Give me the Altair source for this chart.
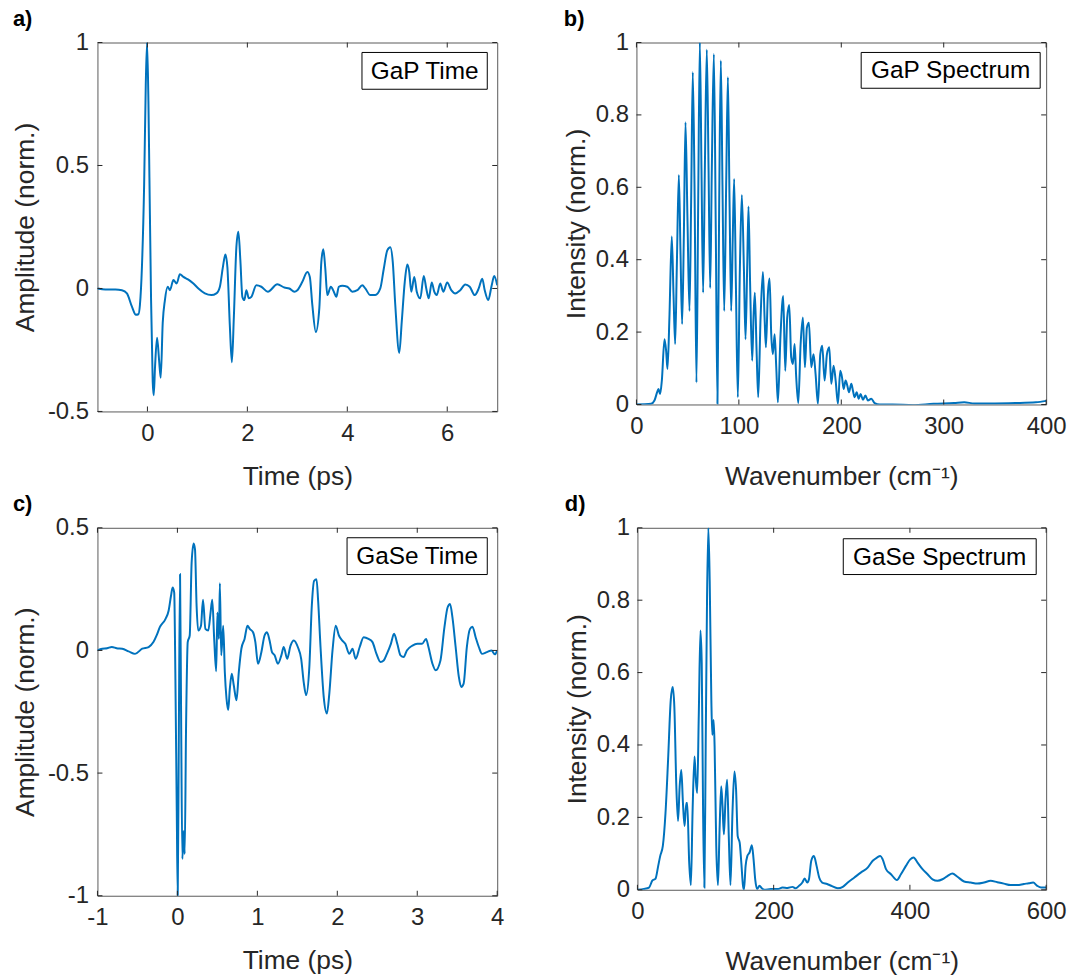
import altair as alt
import pandas as pd

# ---------------- data ----------------
gap_t = [-1.0, -0.84, -0.64, -0.51, -0.41, -0.31, -0.23, -0.18, -0.15, -0.11,
         -0.066, -0.033, -0.007, 0.02, 0.04, 0.073, 0.106, 0.126, 0.153, 0.193,
         0.233, 0.266, 0.306, 0.35, 0.405, 0.45, 0.52, 0.585, 0.65, 0.72,
         0.82, 0.92, 1.02, 1.15, 1.28, 1.38, 1.45, 1.51, 1.56, 1.60,
         1.65, 1.69, 1.73, 1.78, 1.82, 1.86, 1.90, 1.94, 1.98, 2.03,
         2.08, 2.18, 2.28, 2.41, 2.6, 2.74, 2.84, 2.94, 3.0, 3.10,
         3.20, 3.25, 3.30, 3.37, 3.44, 3.48, 3.52, 3.56, 3.60, 3.67,
         3.73, 3.78, 3.83, 3.90, 4.0, 4.1, 4.2, 4.3, 4.36, 4.46,
         4.56, 4.66, 4.73, 4.80, 4.86, 4.91, 4.96, 5.04, 5.09, 5.15,
         5.2, 5.24, 5.28, 5.34, 5.39, 5.46, 5.53, 5.58, 5.63, 5.69,
         5.74, 5.79, 5.86, 5.92, 6.0, 6.08, 6.16, 6.26, 6.36, 6.45,
         6.55, 6.63, 6.70, 6.75, 6.82, 6.89, 6.94, 7.0]
gap_amp = [0.0, -0.004, -0.004, -0.007, -0.02, -0.074, -0.107, -0.105, -0.067, 0.087,
           0.42, 0.83, 1.0, 0.76, 0.45, -0.047, -0.38, -0.434, -0.316, -0.2,
           -0.29, -0.363, -0.14, -0.047, 0.007, -0.007, 0.034, 0.02, 0.058, 0.047,
           0.036, 0.02, 0.0, -0.02, -0.027, -0.02, 0.007, 0.087, 0.138, 0.087,
           -0.155, -0.3, -0.114, 0.168, 0.231, 0.114, -0.034, -0.047, -0.007, -0.04,
           -0.034, 0.013, 0.007, -0.013, 0.017, 0.004, 0.0, -0.013, -0.007, 0.027,
           0.067, 0.047, -0.067, -0.177, -0.08, 0.107, 0.159, 0.08, -0.027, 0.007,
           -0.013, -0.034, 0.007, 0.011, 0.007, -0.013, -0.007, 0.013, 0.0, -0.027,
           -0.027, 0.0, 0.08, 0.155, 0.168, 0.107, -0.067, -0.262, -0.134, 0.027,
           0.097, 0.067, -0.013, 0.047, -0.013, -0.04, 0.051, 0.0, -0.04, 0.024,
           -0.013, -0.027, 0.02, -0.013, 0.024, -0.007, -0.02, -0.007, 0.016, 0.007,
           -0.027, 0.0, 0.04, -0.007, -0.047, 0.013, 0.051, 0.013]

gap_wn = [0, 14.3, 17.6, 20.2, 21.5, 23.1, 24.8, 27.4, 29, 30.3,
          32.2, 34.5, 36.2, 37.8, 39.4, 41.4, 43, 44.6, 46.3, 47.9,
          49.8, 51.8, 53.4, 55, 56.7, 58.6, 60.3, 61.9, 63.5, 65.1,
          66.8, 68.7, 70.4, 72, 73.6, 75.6, 77.5, 79.1, 80.8, 82.4,
          84, 85.7, 87.6, 89.3, 90.9, 92.5, 94.1, 95.4, 97.1, 99,
          101, 102.9, 104.9, 106.5, 108.1, 109.4, 111, 113, 114.3, 115.6,
          117.3, 118.9, 121.2, 123.5, 125.1, 126.4, 128.3, 130, 131.6, 133.2,
          134.9, 136.5, 138.1, 140.7, 143.3, 145.3, 147.2, 149.2, 151.1, 152.8,
          154.4, 156, 158, 160.3, 162.5, 164.5, 166.4, 168.4, 170.7, 172.9,
          174.9, 177.2, 179.5, 181.4, 183.7, 186, 188.3, 190.2, 192.5, 194.5,
          196.7, 199, 200.7, 202.3, 204.2, 205.9, 207.5, 209.8, 211.4, 213,
          215, 217, 218.9, 221.2, 223.5, 226, 229.3, 232.6, 237.5, 250,
          270, 290, 310, 320, 330, 350, 370, 390, 400]
gap_int = [0, 0.002, 0.011, 0.034, 0.043, 0.029, 0.066, 0.18, 0.148, 0.098,
           0.24, 0.464, 0.304, 0.167, 0.377, 0.634, 0.423, 0.222, 0.469, 0.78,
           0.515, 0.258, 0.56, 0.918, 0.606, 0.061, 0.56, 1.0, 0.652, 0.309,
           0.652, 0.98, 0.652, 0.322, 0.652, 0.968, 0.469, 0.002, 0.56, 0.95,
           0.606, 0.258, 0.606, 0.904, 0.56, 0.258, 0.469, 0.623, 0.331, 0.02,
           0.377, 0.579, 0.377, 0.18, 0.377, 0.547, 0.331, 0.121, 0.24, 0.309,
           0.148, 0.02, 0.24, 0.366, 0.24, 0.158, 0.304, 0.348, 0.194, 0.139,
           0.194, 0.103, 0.006, 0.194, 0.3, 0.093, 0.24, 0.275, 0.13, 0.112,
           0.167, 0.075, 0.004, 0.167, 0.24, 0.103, 0.212, 0.226, 0.103, 0.139,
           0.084, 0.002, 0.139, 0.162, 0.066, 0.139, 0.158, 0.057, 0.107, 0.066,
           0.002, 0.093, 0.075, 0.043, 0.066, 0.052, 0.034, 0.057, 0.038, 0.02,
           0.034, 0.016, 0.029, 0.013, 0.025, 0.011, 0.016, 0.004, 0.0, 0.0,
           -0.002, 0.002, 0.004, 0.006, 0.003, 0.003, 0.004, 0.006, 0.01]

gase_t = [-1.0, -0.94, -0.88, -0.82, -0.76, -0.69, -0.61, -0.53, -0.44, -0.36,
          -0.30, -0.26, -0.22, -0.15, -0.11, -0.08, -0.06, -0.04, -0.025, -0.008,
          0.004, 0.017, 0.033, 0.046, 0.062, 0.079, 0.091, 0.108, 0.129, 0.154,
          0.178, 0.203, 0.22, 0.24, 0.26, 0.295, 0.32, 0.35, 0.386, 0.415,
          0.436, 0.46, 0.485, 0.50, 0.519, 0.531, 0.548, 0.573, 0.593, 0.614,
          0.635, 0.656, 0.68, 0.705, 0.739, 0.768, 0.80, 0.84, 0.876, 0.905,
          0.946, 0.975, 1.008, 1.05, 1.09, 1.12, 1.153, 1.183, 1.216, 1.257,
          1.30, 1.33, 1.373, 1.415, 1.456, 1.506, 1.548, 1.58, 1.61, 1.65,
          1.68, 1.71, 1.74, 1.76, 1.79, 1.83, 1.87, 1.90, 1.94, 1.98,
          2.02, 2.06, 2.10, 2.15, 2.19, 2.23, 2.28, 2.33, 2.39, 2.44,
          2.49, 2.54, 2.58, 2.62, 2.67, 2.71, 2.75, 2.79, 2.83, 2.87,
          2.94, 3.0, 3.06, 3.11, 3.14, 3.19, 3.23, 3.29, 3.34, 3.38,
          3.41, 3.44, 3.48, 3.52, 3.55, 3.58, 3.62, 3.66, 3.69, 3.73,
          3.77, 3.81, 3.87, 3.93, 3.97, 4.0]
gase_amp = [0, 0.007, 0.009, 0.014, 0.009, 0.007, -0.004, -0.014, 0.007, 0.014,
            0.034, 0.061, 0.095, 0.128, 0.162, 0.223, 0.257, 0.236, -0.115, -0.655,
            -1.0, -0.385, 0.311, -0.25, -0.85, -0.736, -0.83, -0.318, 0.034, 0.061,
            0.358, 0.436, 0.412, 0.182, 0.081, 0.101, 0.207, 0.088, 0.081, 0.155,
            0.207, 0.047, -0.085, 0.155, 0.047, 0.274, -0.02, 0.101, -0.088, -0.196,
            -0.243, -0.155, -0.095, -0.142, -0.203, -0.088, 0.007, 0.047, 0.101, 0.088,
            0.074, 0.034, -0.054, -0.007, 0.061, 0.074, 0.041, -0.007, -0.02, -0.054,
            -0.02, 0.014, -0.034, 0.02, 0.041, 0.014, -0.034, -0.13, -0.182, -0.068,
            0.176, 0.284, 0.29, 0.203, 0.014, -0.189, -0.257, -0.176, 0, 0.101,
            0.061, 0.041, 0.027, -0.014, 0.007, -0.034, 0.014, 0.054, 0.047, 0.034,
            -0.014, -0.047, -0.041, -0.014, 0.027, 0.068, 0.027, -0.02, -0.027, 0,
            0.02, 0.027, 0.027, 0.047, 0.014, -0.054, -0.081, -0.041, 0.095, 0.176,
            0.189, 0.135, 0.014, -0.108, -0.149, -0.135, 0.014, 0.088, 0.097, 0.054,
            0.014, -0.014, -0.007, 0, -0.016, 0]

gase_wn = [0, 9.7, 17, 21.8, 26.6, 30.5, 33.4, 37.3, 41.2, 45,
           48.9, 51.8, 54.2, 57.1, 59.6, 62, 64.4, 66.8, 69.2, 71.7,
           73.1, 76, 78.5, 80.9, 83.8, 85.7, 87.7, 90.1, 92.5, 94.4,
           96.4, 98.3, 100.2, 102.2, 104.1, 106.1, 108.5, 109.9, 111.9, 113.3,
           115.7, 118.2, 120.6, 123, 124.9, 126.9, 129.3, 131.7, 134.1, 136.6,
           139.5, 142.4, 144.8, 147.2, 150.1, 152.5, 155, 156.4, 158.8, 161.3,
           164.6, 168, 170.5, 172.9, 175.8, 179.2, 182.6, 186.4, 196, 205.8,
           213, 220.3, 227.6, 232.4, 237.3, 242.1, 245.5, 249.4, 251.8, 255.2,
           259.1, 263, 266.8, 271.2, 278.5, 284.4, 294.1, 301.5, 308.8, 318.5,
           328.3, 338, 345.4, 351.7, 356.6, 360, 364.9, 372.2, 381, 386.8,
           394.1, 400.5, 405.4, 411.2, 418.5, 425.9, 433.2, 440.5, 447.8, 455.1,
           462.4, 469.8, 479.5, 489.3, 499, 508.8, 518.5, 528.3, 538, 547.8,
           557.6, 567.3, 574.6, 581, 586.8, 592.7, 600]
gase_int = [0, 0.002, 0.006, 0.025, 0.031, 0.066, 0.093, 0.121, 0.212, 0.359,
            0.524, 0.56, 0.505, 0.286, 0.19, 0.286, 0.331, 0.24, 0.176, 0.24,
            0.24, 0.075, 0.013, 0.212, 0.368, 0.304, 0.267, 0.487, 0.716, 0.625,
            0.212, 0.006, 0.396, 0.808, 1.0, 0.853, 0.524, 0.428, 0.469, 0.396,
            0.121, 0.013, 0.167, 0.286, 0.231, 0.153, 0.249, 0.304, 0.148, 0.013,
            0.212, 0.327, 0.277, 0.148, 0.13, 0.075, 0.011, 0, 0.066, 0.093,
            0.103, 0.123, 0.084, 0.029, 0.002, 0.011, 0.004, 0, 0.002, 0.002,
            0.006, 0.005, 0.008, 0.004, 0.011, 0.02, 0.031, 0.02, 0.029, 0.08,
            0.093, 0.066, 0.034, 0.02, 0.016, 0.011, 0.004, 0.008, 0.02, 0.034,
            0.048, 0.061, 0.08, 0.089, 0.093, 0.084, 0.057, 0.043, 0.027, 0.043,
            0.066, 0.084, 0.089, 0.075, 0.057, 0.043, 0.029, 0.025, 0.029, 0.038,
            0.045, 0.036, 0.023, 0.02, 0.017, 0.02, 0.025, 0.021, 0.017, 0.013,
            0.013, 0.016, 0.018, 0.02, 0.011, 0.006, 0.006]

# tick values
gap_t_xticks = [0, 2, 4, 6]
gap_t_yticks = [-0.5, 0, 0.5, 1]
gap_s_xticks = [0, 100, 200, 300, 400]
spec_yticks = [0, 0.2, 0.4, 0.6, 0.8, 1]
gase_t_xticks = [-1, 0, 1, 2, 3, 4]
gase_t_yticks = [-1, -0.5, 0, 0.5]
gase_s_xticks = [0, 200, 400, 600]

# ---------------- styling ----------------
BLUE = "#0072BD"
FONT = "Liberation Sans"
TXT = "#262626"
FRAME = "#5a5a5a"
TICK = 5


def panel(x, y, xdom, ydom, xticks, yticks, xtitle, ytitle, letter,
          legend, box, W, H, ytitle_x, xtitle_pad, ylabel_pad):
    df = pd.DataFrame({"x": x, "y": y})
    xs = alt.Scale(domain=xdom, nice=False, zero=False)
    ys = alt.Scale(domain=ydom, nice=False, zero=False)
    xaxis = alt.Axis(values=xticks, title=xtitle,
                     labelExpr="toString(datum.value)",
                     labelPadding=10, titlePadding=xtitle_pad)
    yaxis = alt.Axis(values=yticks, title=ytitle,
                     labelExpr="toString(datum.value)",
                     labelPadding=ylabel_pad, titleX=ytitle_x,
                     titleBaseline="middle", titleAngle=-90)
    line = alt.Chart(df).mark_line(
        color=BLUE, strokeWidth=2, interpolate="monotone", clip=True
    ).encode(
        x=alt.X("x:Q", scale=xs, axis=xaxis, title=xtitle),
        y=alt.Y("y:Q", scale=ys, axis=yaxis, title=ytitle),
    )
    xt = pd.DataFrame({"x": xticks})
    yt = pd.DataFrame({"y": yticks})
    xenc = alt.X("x:Q", scale=xs, axis=xaxis, title=xtitle)
    yenc = alt.Y("y:Q", scale=ys, axis=yaxis, title=ytitle)
    rule = dict(color=TXT, strokeWidth=1)
    t_bottom = alt.Chart(xt).mark_rule(**rule).encode(
        x=xenc, y=alt.value(H), y2=alt.value(H - TICK))
    t_top = alt.Chart(xt).mark_rule(**rule).encode(
        x=xenc, y=alt.value(0), y2=alt.value(TICK))
    t_left = alt.Chart(yt).mark_rule(**rule).encode(
        y=yenc, x=alt.value(0), x2=alt.value(TICK))
    t_right = alt.Chart(yt).mark_rule(**rule).encode(
        y=yenc, x=alt.value(W), x2=alt.value(W - TICK))
    x0, x1, y0, y1 = box
    ldf = pd.DataFrame({"label": [legend]})
    rect = alt.Chart(ldf).mark_rect(
        fill="white", stroke="black", strokeWidth=1
    ).encode(x=alt.value(x0), x2=alt.value(x1), y=alt.value(y0), y2=alt.value(y1))
    txt = alt.Chart(ldf).mark_text(
        font=FONT, fontSize=24.5, color="black", align="center", baseline="middle"
    ).encode(x=alt.value((x0 + x1) / 2), y=alt.value((y0 + y1) / 2 + 1),
             text="label:N")
    return alt.layer(line, t_bottom, t_top, t_left, t_right, rect, txt).properties(
        width=W, height=H,
        title=alt.TitleParams(text=letter, anchor="start", fontSize=22,
                              fontWeight="bold", font=FONT, color="black",
                              offset=0),
    )


pa = panel(gap_t, gap_amp, [-1, 7], [-0.5, 1], gap_t_xticks, gap_t_yticks,
           "Time (ps)", "Amplitude (norm.)", "a)", "GaP Time",
           (266, 392, 10, 47), 402, 371, -72, 18, 9)
pb = panel(gap_wn, gap_int, [0, 400], [0, 1], gap_s_xticks, spec_yticks,
           "Wavenumber (cm⁻¹)", "Intensity (norm.)", "b)", "GaP Spectrum",
           (226, 406, 10, 46), 412, 364, -60, 25, 8)
pc = panel(gase_t, gase_amp, [-1, 4], [-1, 0.5], gase_t_xticks, gase_t_yticks,
           "Time (ps)", "Amplitude (norm.)", "c)", "GaSe Time",
           (251, 392, 10, 47), 402, 370, -72, 18, 9)
pd_ = panel(gase_wn, gase_int, [0, 600], [0, 1], gase_s_xticks, spec_yticks,
            "Wavenumber (cm⁻¹)", "Intensity (norm.)", "d)", "GaSe Spectrum",
            (207, 401, 11, 47), 411, 364, -60, 25, 8)

chart = alt.vconcat(
    alt.hconcat(pa, pb, spacing=65),
    alt.hconcat(pc, pd_, spacing=59),
    spacing=2,
).properties(
    padding={"left": 12, "top": 4, "right": 5, "bottom": 5},
    background="white",
).configure_view(
    stroke=FRAME, strokeWidth=1
).configure_axis(
    domain=False, ticks=False, grid=False,
    labelFont=FONT, labelFontSize=24, labelColor=TXT,
    labelFlush=False, labelOverlap=False, labelBound=False,
    titleFont=FONT, titleFontSize=26.5, titleFontWeight="normal", titleColor=TXT,
)

chart.save("out.html", embed_options={"renderer": "svg", "actions": False})
